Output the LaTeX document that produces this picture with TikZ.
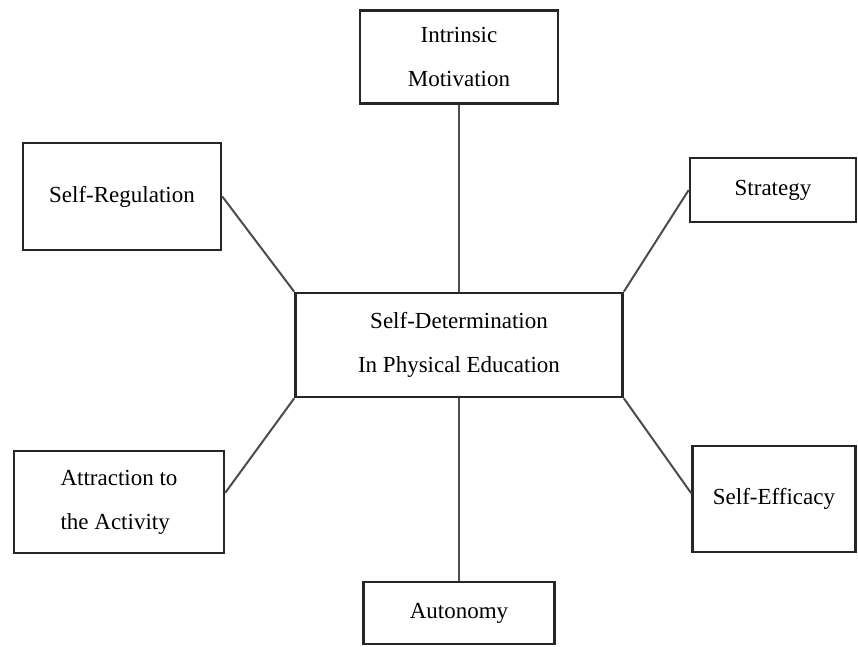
\documentclass[tikz,border=0pt]{standalone}
\usepackage{fontspec}
\setmainfont{Liberation Serif}
\usepackage{tikz}
\usetikzlibrary{positioning}

\begin{document}
\begin{tikzpicture}[
	x=1pt, y=-1pt,
	font=\fontsize{23}{44}\selectfont
]
\tikzset{
    mybox/.style = {rectangle, draw=black!85, line width=2.6pt, align=center, fill=white, inner sep=0pt},
    myboxl/.style = {mybox, align=left},
    edgen/.style = {-, line width=2pt, black!70}
}
\useasboundingbox (0,0) rectangle (858,646);
\node[mybox, minimum width=327pt, minimum height=104pt] at (459,345) (sd) {Self-Determination\\In Physical Education};
\node[mybox, minimum width=198pt, minimum height=93pt] at (459,57) (im) {Intrinsic\\Motivation};
\node[mybox, minimum width=198pt, minimum height=107pt] at (122,196.5) (sreg) {Self-Regulation};
\node[mybox, minimum width=166pt, minimum height=64pt] at (773,190) (strat) {Strategy};
\node[myboxl, minimum width=210pt, minimum height=102pt] at (119,502) (attr) {Attraction to\\the Activity};
\node[mybox, minimum width=163pt, minimum height=106pt] at (774,499) (seff) {Self-Efficacy};
\node[mybox, minimum width=191pt, minimum height=62pt] at (459,613) (auto) {Autonomy};
%
\draw[edgen] (im) -- (sd);
\draw[edgen] (sreg.east) -- (sd.north west);
\draw[edgen] (strat.west) -- (sd.north east);
%
\draw[edgen] (attr.5) -- (sd.south west);
\draw[edgen] (seff.176) -- (sd.south east);
\draw[edgen] (sd) -- (auto);
\end{tikzpicture}
\end{document}
